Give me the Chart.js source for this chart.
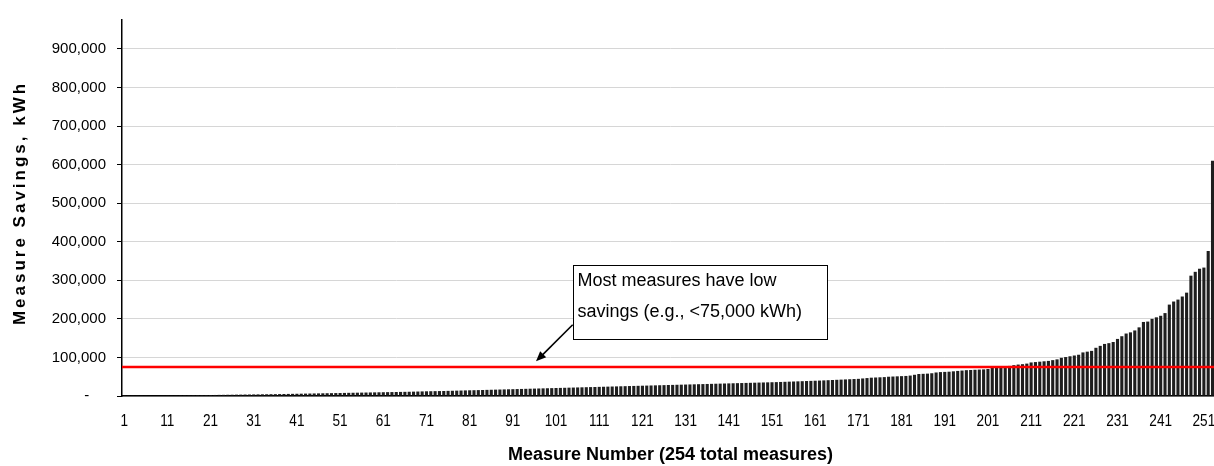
<!DOCTYPE html>
<html>
<head>
<meta charset="utf-8">
<script src="https://cdn.jsdelivr.net/npm/chart.js@4"></script>
<style>
  html, body { margin: 0; padding: 0; background: #fff; overflow: hidden; }
  #wrap { width: 1219px; height: 466px; }
</style>
</head>
<body>
<div id="wrap"><canvas id="savingsChart"></canvas></div>
<script>
// Measure numbers 1..254
const measureCount = 254;
const measureLabels = [];
for (let i = 1; i <= measureCount; i++) measureLabels.push(String(i));

// Savings per measure, kWh (sorted ascending)
const savingsKWh = [
  500, 700, 800, 900, 1000, 1100, 1200, 1300, 1400, 1500,
  1600, 1700, 1800, 1900, 2000, 2100, 2200, 2300, 2400, 2500,
  2600, 2700, 2900, 3000, 3200, 3300, 3500, 3600, 3800, 3900,
  4100, 4200, 4400, 4500, 4700, 4800, 5000, 5200, 5400, 5600,
  5800, 6000, 6200, 6400, 6600, 6800, 7000, 7200, 7400, 7600,
  7800, 8000, 8200, 8400, 8600, 8800, 9000, 9200, 9400, 9600,
  9800, 10000, 10200, 10400, 10600, 10800, 11000, 11300, 11600, 11900,
  12200, 12400, 12600, 12800, 13000, 13300, 13600, 13900, 14200, 14500,
  14800, 15000, 15300, 15600, 15900, 16200, 16500, 16800, 17100, 17400,
  17700, 18000, 18300, 18600, 18900, 19200, 19500, 19800, 20100, 20400,
  20700, 21000, 21300, 21600, 21900, 22200, 22500, 22800, 23100, 23400,
  23700, 24000, 24300, 24600, 24900, 25200, 25500, 25800, 26100, 26400,
  26700, 27000, 27300, 27600, 27900, 28200, 28500, 28800, 29100, 29400,
  29700, 30000, 30300, 30600, 30900, 31200, 31500, 31800, 32100, 32400,
  32700, 33000, 33300, 33600, 33900, 34200, 34500, 34800, 35100, 35400,
  35700, 36000, 36400, 36800, 37200, 37600, 38000, 38400, 38800, 39200,
  39600, 40000, 40500, 41000, 41500, 42000, 42500, 43000, 43500, 44000,
  44500, 45500, 46500, 47500, 48000, 48500, 49000, 50000, 50500, 51000,
  51500, 52000, 53000, 55000, 57000, 57500, 58000, 59000, 61000, 62000,
  62500, 63000, 64000, 65000, 66000, 67000, 67500, 68000, 68500, 69000,
  70000, 73000, 74500, 75500, 76500, 78000, 80000, 81500, 82500, 84000,
  87000, 88000, 89000, 90000, 91000, 93000, 95000, 99000, 101000, 103000,
  105000, 107000, 113000, 115000, 117000, 125000, 130000, 135000, 137000, 140000,
  148000, 155000, 162000, 165000, 170000, 178000, 192000, 193000, 200000, 204000,
  208000, 215000, 237000, 245000, 250000, 258000, 268000, 312000, 322000, 330000,
  333000, 376000, 610000, 930000
];

const lowSavingsLine = 75000;
const yMax = 975000;
const yTicks = [0, 100000, 200000, 300000, 400000, 500000, 600000, 700000, 800000, 900000];
const xLabelEvery = 10;

const noteLines = ["Most measures have low", "savings (e.g., <75,000 kWh)"];
const yTitle = "Measure Savings, kWh";
const xTitle = "Measure Number (254 total measures)";

// annotation anchors in data units (category index, kWh)
const noteBox = { x0: 103.85, x1: 162.66, top: 338700, bottom: 148000 };
const noteArrow = { fromX: 103.85, fromY: 184700, toX: 95.36, toY: 89800 };

const annotations = {
  id: "annotations",
  afterDatasetsDraw(chart) {
    const { ctx, chartArea, scales: { x, y } } = chart;
    ctx.save();

    // red threshold line
    const ly = y.getPixelForValue(lowSavingsLine);
    ctx.strokeStyle = "#ff0000";
    ctx.lineWidth = 2.5;
    ctx.beginPath();
    ctx.moveTo(chartArea.left, ly);
    ctx.lineTo(chartArea.right, ly);
    ctx.stroke();

    // note box
    const bx0 = Math.round(x.getPixelForValue(noteBox.x0)) + 0.5;
    const bx1 = Math.round(x.getPixelForValue(noteBox.x1)) + 0.5;
    const by0 = Math.round(y.getPixelForValue(noteBox.top)) + 0.5;
    const by1 = Math.round(y.getPixelForValue(noteBox.bottom)) + 0.5;
    ctx.fillStyle = "#fff";
    ctx.fillRect(bx0, by0, bx1 - bx0, by1 - by0);
    ctx.strokeStyle = "#000";
    ctx.lineWidth = 1;
    ctx.strokeRect(bx0, by0, bx1 - bx0, by1 - by0);

    ctx.fillStyle = "#000";
    ctx.font = "18px 'Liberation Sans', Arial, sans-serif";
    ctx.textAlign = "left";
    ctx.textBaseline = "alphabetic";
    ctx.fillText(noteLines[0], bx0 + 4, by0 + 20);
    ctx.fillText(noteLines[1], bx0 + 4, by0 + 51);

    // arrow
    const ax0 = x.getPixelForValue(noteArrow.fromX);
    const ay0 = y.getPixelForValue(noteArrow.fromY);
    const ax1 = x.getPixelForValue(noteArrow.toX);
    const ay1 = y.getPixelForValue(noteArrow.toY);
    const ang = Math.atan2(ay1 - ay0, ax1 - ax0);
    const head = 11;
    ctx.strokeStyle = "#000";
    ctx.lineWidth = 1.6;
    ctx.beginPath();
    ctx.moveTo(ax0, ay0);
    ctx.lineTo(ax1 - Math.cos(ang) * head * 0.8, ay1 - Math.sin(ang) * head * 0.8);
    ctx.stroke();
    ctx.beginPath();
    ctx.moveTo(ax1, ay1);
    ctx.lineTo(ax1 - head * Math.cos(ang - 0.4), ay1 - head * Math.sin(ang - 0.4));
    ctx.lineTo(ax1 - head * Math.cos(ang + 0.4), ay1 - head * Math.sin(ang + 0.4));
    ctx.closePath();
    ctx.fill();
    ctx.restore();
  },
  afterDraw(chart) {
    const { ctx, chartArea, scales: { x } } = chart;
    ctx.save();
    ctx.fillStyle = "#000";

    // narrow x tick labels (every 10th measure)
    ctx.font = "17px 'Liberation Sans', Arial, sans-serif";
    ctx.textAlign = "center";
    ctx.textBaseline = "middle";
    measureLabels.forEach((lbl, i) => {
      if (i % xLabelEvery !== 0) return;
      ctx.save();
      ctx.translate(x.getPixelForValue(i), chartArea.bottom + 25);
      ctx.scale(0.8, 1);
      ctx.fillText(lbl, 0, 0);
      ctx.restore();
    });

    // rotated, letter-spaced y title
    ctx.translate(20.5, 203);
    ctx.rotate(-Math.PI / 2);
    ctx.font = "bold 17px 'Liberation Sans', Arial, sans-serif";
    ctx.letterSpacing = "3px";
    ctx.fillText(yTitle, 0, 0);
    ctx.restore();
  }
};

new Chart(document.getElementById("savingsChart"), {
  type: "bar",
  data: {
    labels: measureLabels,
    datasets: [
      {
        data: savingsKWh,
        backgroundColor: "#1e1e1e",
        borderWidth: 0,
        barPercentage: 0.72,
        categoryPercentage: 1,
      },
    ],
  },
  options: {
    responsive: true,
    maintainAspectRatio: false,
    animation: false,
    layout: { padding: { top: 16, left: 0, right: 0, bottom: 0 } },
    plugins: {
      legend: { display: false },
      tooltip: { enabled: false },
    },
    scales: {
      x: {
        afterFit: (s) => { s.height = 70; },
        grid: { display: false },
        border: { color: "#000", width: 1.5 },
        ticks: { display: false },
        title: {
          display: true,
          text: xTitle,
          color: "#000",
          font: { family: "'Liberation Sans', Arial", size: 18, weight: "bold" },
          padding: { top: 0, bottom: 0 },
        },
      },
      y: {
        min: 0,
        max: yMax,
        afterFit: (s) => { s.width = 122; },
        afterBuildTicks: (s) => { s.ticks = yTicks.map((v) => ({ value: v })); },
        grid: { color: "#d6d6d6", lineWidth: 1, tickColor: "#000", tickLength: 5 },
        border: { color: "#000", width: 1.5 },
        ticks: {
          padding: 11,
          color: "#000",
          font: { family: "'Liberation Sans', Arial", size: 15 },
          callback: (v) => (v === 0 ? "-    " : v.toLocaleString("en-US")),
        },
      },
    },
  },
  plugins: [annotations],
});
</script>
</body>
</html>
